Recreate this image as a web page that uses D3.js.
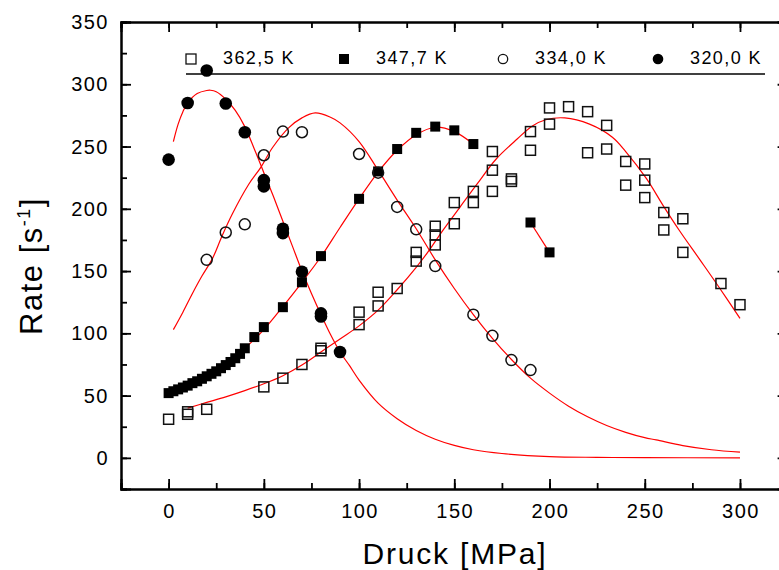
<!doctype html>
<html lang="de">

<head>
    <meta charset="utf-8">
    <script src="https://d3js.org/d3.v7.min.js"></script>
    <title>Rate vs Druck</title>
    <style>
        body { margin: 0; background: #fff; }
        text { font-family: "Liberation Sans", Arial, sans-serif; fill: #000; }
    </style>
</head>

<body>
    <div id="chart"></div>

    <script>
        var p362 = [0, 10, 10, 20, 50, 60, 70, 80, 80, 100, 100, 110, 110, 120, 130, 130, 140, 140, 140, 150, 150,
            160, 160, 170, 170, 170, 180, 180, 190, 190, 200, 200, 210, 220, 220, 230, 230, 240, 240, 250, 250, 250,
            260, 260, 270, 270, 290, 300];
        var r362 = [31, 37, 35, 39, 57, 64, 75, 86, 88, 107, 117, 122, 133, 136, 158, 165, 171, 179, 186, 188, 205,
            205, 214, 214, 231, 246, 222, 224, 247, 262, 268, 281, 282, 245, 278, 248, 267, 219, 238, 209, 223, 236,
            183, 197, 165, 192, 140, 123];

        var p347 = [0, 2.5, 5, 7.5, 10, 12.5, 15, 17.5, 20, 22.5, 25, 27.5, 30, 32.5, 35, 37.5, 40, 45, 50, 60, 70, 80,
            100, 110, 120, 130, 140, 150, 160, 190, 200];
        var r347 = [52, 53.5, 55, 56.5, 58, 60, 61.5, 63.5, 65.5, 67.5, 69.5, 72, 74.5, 77, 80, 83.5, 88, 97, 105, 121,
            141, 162, 208, 230, 248, 261, 266, 263, 252, 189, 165];

        var p334 = [20, 30, 40, 50, 60, 70, 100, 110, 120, 130, 140, 160, 170, 180, 190];
        var r334 = [159, 181, 187.5, 243, 262, 261.5, 244, 229, 201.5, 183.5, 154, 115, 98, 78.5, 70.5];

        var p320 = [0, 10, 20, 30, 40, 50, 50, 60, 60, 70, 80, 80, 90];
        var r320 = [239.5, 285, 311, 284.5, 261.5, 223, 218, 184, 180.5, 149.5, 116, 113.5, 85];

        // angepasste kurven (rot)
        var fit362P = [10, 20, 30, 40, 50, 60, 70, 80, 90, 100, 110, 120, 130, 136, 144, 153, 162, 172, 183, 191, 198,
            208, 221, 233, 240, 251, 259.5, 268, 279, 289, 300];
        var fit362R = [40, 44.5, 49, 54, 59.5, 66, 74.5, 85, 95.5, 106, 118.6, 135, 153, 165, 182.7, 201.4, 220, 240,
            256, 266.5, 271.5, 273, 268, 257.5, 246, 224, 203, 183, 159, 137, 112];

        var fit347P = [0, 10, 20, 30, 40, 50, 60, 70, 80, 90, 100, 110, 120, 130, 140, 150, 160];
        var fit347R = [52, 58.5, 66, 76, 88, 103, 121.5, 141, 161.5, 185, 208, 229.5, 247, 259.5, 265.5, 262, 252];

        var seg347P = [190, 200];
        var seg347R = [189, 165];

        var fit334P = [2.5, 7.5, 12.5, 17.5, 23, 28, 33.5, 42, 48.5, 54.5, 63, 70, 77, 85, 90, 100, 110, 120, 130, 140,
            150, 160, 170, 180, 190, 200, 210, 220, 230, 240, 250, 256, 270, 285, 300];
        var fit334R = [103, 117, 132, 146, 160, 178, 196, 219.5, 233.5, 249, 265, 273, 277, 273.5, 269, 254, 231, 207,
            184, 159, 136, 115, 96, 79, 64, 52, 41.5, 33, 26, 20.5, 16.2, 14.4, 9.8, 6.5, 4.6];

        var fit320P = [2.5, 5, 7.5, 10, 15, 20, 22, 25, 30, 35, 40, 45, 50, 55, 60, 65, 70, 75, 80, 85, 90, 95, 100,
            110, 120, 130, 140, 150, 160, 175, 200, 225, 250, 300];
        var fit320R = [254, 268, 278, 285, 292.5, 295, 295.2, 294, 288, 279, 266, 248, 229, 210, 190, 170, 150, 132, 115,
            99, 85, 74, 62.5, 44, 31.5, 22, 15, 10, 6.5, 3.5, 1, 0.4, 0.2, 0];

        var legendLabels = ["362,5 K", "347,7 K", "334,0 K", "320,0 K"];
        var yTicks = [0, 50, 100, 150, 200, 250, 300, 350];
        var xTicks = [0, 50, 100, 150, 200, 250, 300];

        var width = 779, height = 570;
        var pLeft = 121, pRight = 787.6, pTop = 22, pBottom = 489;

        var x = d3.scaleLinear().domain([-25, 325]).range([pLeft, pRight]);
        var y = d3.scaleLinear().domain([-25, 350]).range([pBottom, pTop]);

        var svg = d3.select("#chart")
            .append("svg")
            .attr("width", width)
            .attr("height", height);

        function zip(xs, ys) {
            return xs.map(function (d, i) { return [d, ys[i]]; });
        }

        var line = d3.line()
            .x(function (d) { return x(d[0]); })
            .y(function (d) { return y(d[1]); })
            .curve(d3.curveCatmullRom.alpha(0.5));

        // rote kurven
        [[fit362P, fit362R], [fit347P, fit347R], [seg347P, seg347R], [fit334P, fit334R], [fit320P, fit320R]]
            .forEach(function (f) {
                svg.append("path")
                    .attr("d", line(zip(f[0], f[1])))
                    .attr("fill", "none")
                    .attr("stroke", "#ff0000")
                    .attr("stroke-width", 1.2);
            });

        // messpunkte
        var sq = 10;
        svg.append("g").selectAll("rect")
            .data(zip(p362, r362))
            .enter()
            .append("rect")
            .attr("x", function (d) { return x(d[0]) - sq / 2; })
            .attr("y", function (d) { return y(d[1]) - sq / 2; })
            .attr("width", sq)
            .attr("height", sq)
            .attr("fill", "none")
            .attr("stroke", "#111")
            .attr("stroke-width", 1.5);

        svg.append("g").selectAll("rect")
            .data(zip(p347, r347))
            .enter()
            .append("rect")
            .attr("x", function (d) { return x(d[0]) - sq / 2; })
            .attr("y", function (d) { return y(d[1]) - sq / 2; })
            .attr("width", sq)
            .attr("height", sq)
            .attr("fill", "#000");

        svg.append("g").selectAll("circle")
            .data(zip(p334, r334))
            .enter()
            .append("circle")
            .attr("cx", function (d) { return x(d[0]); })
            .attr("cy", function (d) { return y(d[1]); })
            .attr("r", 5.5)
            .attr("fill", "none")
            .attr("stroke", "#111")
            .attr("stroke-width", 1.5);

        svg.append("g").selectAll("circle")
            .data(zip(p320, r320))
            .enter()
            .append("circle")
            .attr("cx", function (d) { return x(d[0]); })
            .attr("cy", function (d) { return y(d[1]); })
            .attr("r", 6.3)
            .attr("fill", "#000");

        // achsen: ticks nach innen, auf allen vier seiten
        var minorX = d3.range(-25, 326, 25), minorY = d3.range(-25, 351, 25);

        svg.append("g").attr("transform", "translate(0," + pBottom + ")")
            .call(d3.axisBottom(x).tickValues(minorX).tickSize(-6).tickFormat(""));
        svg.append("g").attr("transform", "translate(0," + pBottom + ")")
            .call(d3.axisBottom(x).tickValues(xTicks).tickSize(-10).tickFormat(""));
        svg.append("g").attr("transform", "translate(0," + pTop + ")")
            .call(d3.axisTop(x).tickValues(minorX).tickSize(-6).tickFormat(""));
        svg.append("g").attr("transform", "translate(0," + pTop + ")")
            .call(d3.axisTop(x).tickValues(xTicks).tickSize(-10).tickFormat(""));
        svg.append("g").attr("transform", "translate(" + pLeft + ",0)")
            .call(d3.axisLeft(y).tickValues(minorY).tickSize(-6).tickFormat(""));
        svg.append("g").attr("transform", "translate(" + pLeft + ",0)")
            .call(d3.axisLeft(y).tickValues(yTicks).tickSize(-10).tickFormat(""));
        svg.append("g").attr("transform", "translate(" + pRight + ",0)")
            .call(d3.axisRight(y).tickValues(minorY).tickSize(-6).tickFormat(""));
        svg.append("g").attr("transform", "translate(" + pRight + ",0)")
            .call(d3.axisRight(y).tickValues(yTicks).tickSize(-10).tickFormat(""));

        svg.selectAll(".domain").attr("stroke", "#000").attr("stroke-width", 2);
        svg.selectAll(".tick line").attr("stroke", "#000").attr("stroke-width", 1.8);

        // tick beschriftung
        svg.append("g").selectAll("text")
            .data(yTicks)
            .enter()
            .append("text")
            .attr("x", pLeft - 12)
            .attr("y", function (d) { return y(d) + 7; })
            .attr("text-anchor", "end")
            .style("font-size", "20px")
            .style("letter-spacing", "1.5px")
            .text(function (d) { return d; });

        svg.append("g").selectAll("text")
            .data(xTicks)
            .enter()
            .append("text")
            .attr("x", function (d) { return x(d) + 1; })
            .attr("y", pBottom + 29)
            .attr("text-anchor", "middle")
            .style("font-size", "20px")
            .style("letter-spacing", "1.5px")
            .text(function (d) { return d; });

        // achsentitel
        svg.append("text")
            .attr("x", 455)
            .attr("y", 564)
            .attr("text-anchor", "middle")
            .style("font-size", "30px")
            .style("letter-spacing", "1.8px")
            .text("Druck [MPa]");

        var yt = svg.append("text")
            .attr("transform", "translate(42,266) rotate(-90)")
            .attr("text-anchor", "middle")
            .style("font-size", "31px")
            .style("letter-spacing", "1.5px");
        yt.append("tspan").text("Rate [s");
        yt.append("tspan").attr("dy", -12).style("font-size", "18px").text("-1");
        yt.append("tspan").attr("dy", 12).text("]");

        // legende
        var lg = svg.append("g");
        lg.append("line")
            .attr("x1", 186).attr("x2", 765)
            .attr("y1", 74).attr("y2", 74)
            .attr("stroke", "#000").attr("stroke-width", 1.5);

        var legX = [191, 344, 503, 658];
        lg.append("rect").attr("x", legX[0] - 5).attr("y", 54).attr("width", 10).attr("height", 10)
            .attr("fill", "none").attr("stroke", "#111").attr("stroke-width", 1.3);
        lg.append("rect").attr("x", legX[1] - 5).attr("y", 54).attr("width", 10).attr("height", 10)
            .attr("fill", "#000");
        lg.append("circle").attr("cx", legX[2]).attr("cy", 59).attr("r", 4.7)
            .attr("fill", "none").attr("stroke", "#111").attr("stroke-width", 1.3);
        lg.append("circle").attr("cx", legX[3]).attr("cy", 59).attr("r", 5.3)
            .attr("fill", "#000");

        lg.selectAll("text.leg")
            .data(legendLabels)
            .enter()
            .append("text")
            .attr("class", "leg")
            .attr("x", function (d, i) { return legX[i] + 32; })
            .attr("y", 64)
            .style("font-size", "18px")
            .style("letter-spacing", "1.4px")
            .text(function (d) { return d; });
    </script>
</body>

</html>
